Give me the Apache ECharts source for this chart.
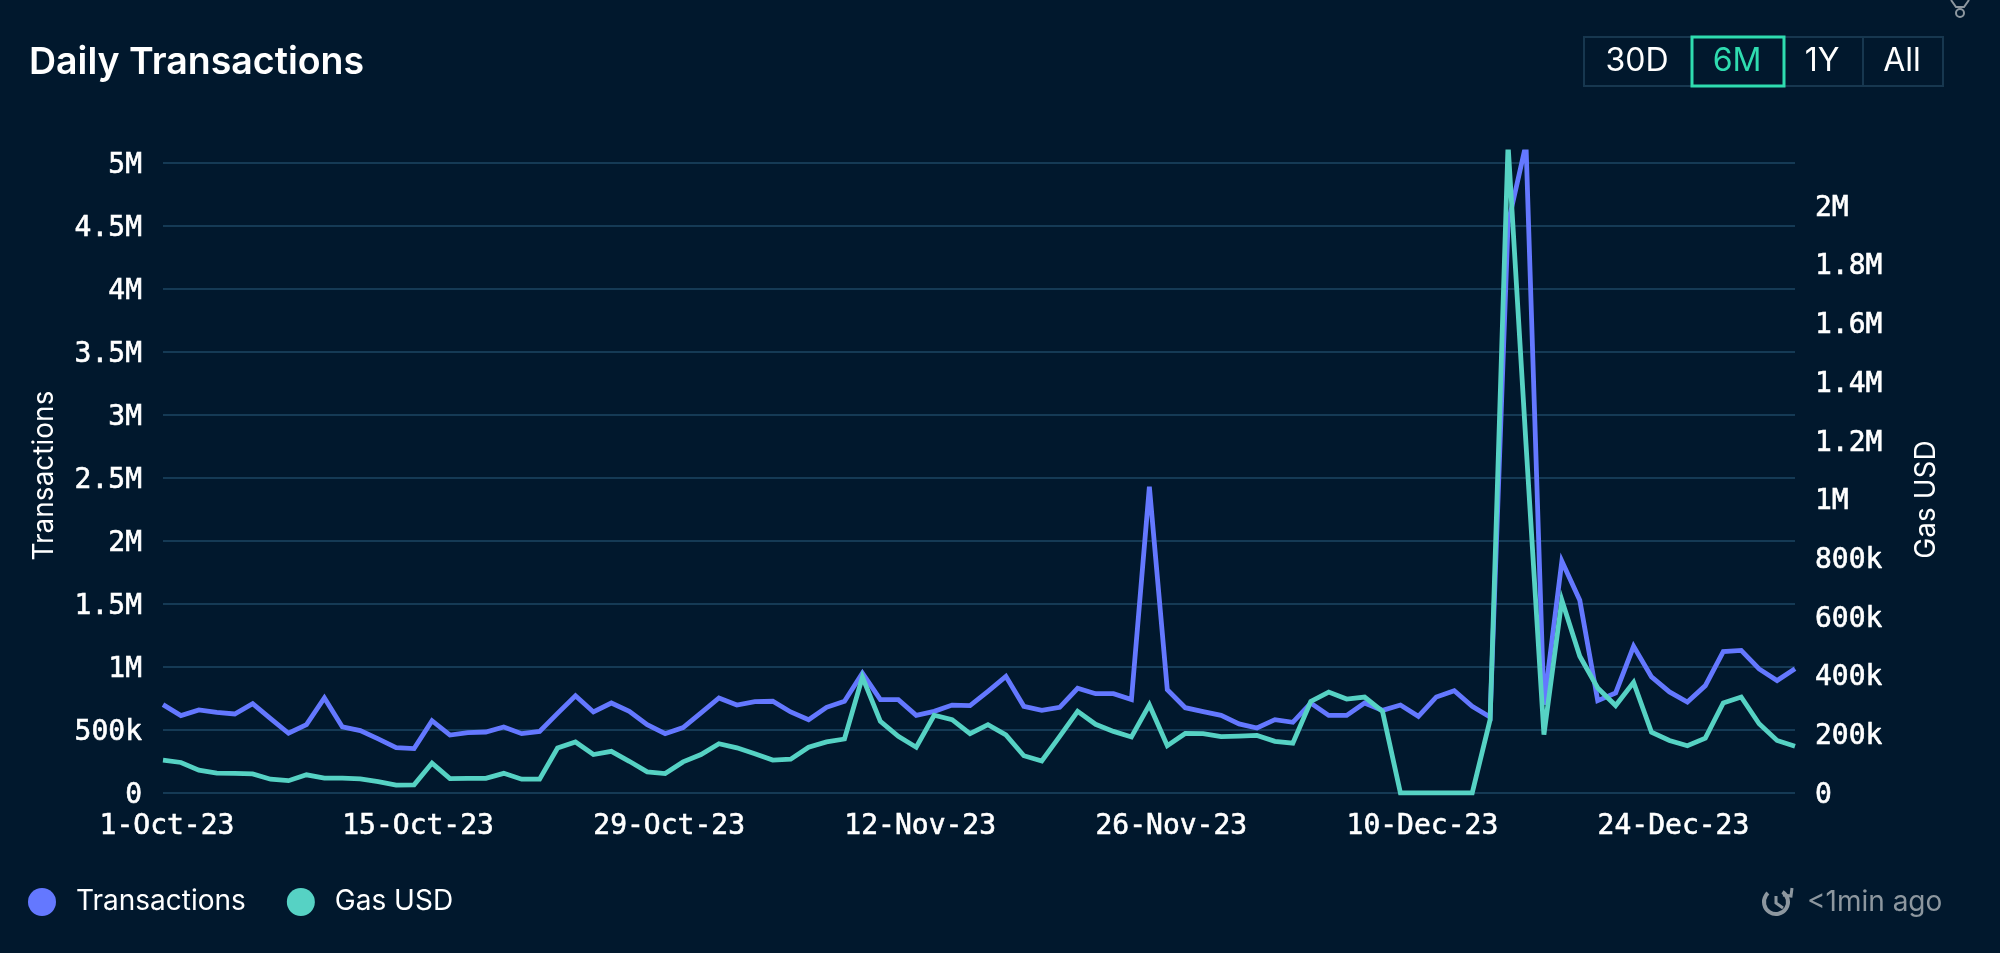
<!DOCTYPE html>
<html><head><meta charset="utf-8">
<style>html,body{margin:0;padding:0;background:#01182d}#c{width:2000px;height:953px}</style>
<script src="https://cdn.jsdelivr.net/npm/echarts@6/dist/echarts.min.js"></script>
</head><body><div id="c"></div>
<script>
const categories = [
"1-Oct-23","2-Oct-23","3-Oct-23","4-Oct-23","5-Oct-23","6-Oct-23","7-Oct-23","8-Oct-23","9-Oct-23","10-Oct-23",
"11-Oct-23","12-Oct-23","13-Oct-23","14-Oct-23","15-Oct-23","16-Oct-23","17-Oct-23","18-Oct-23","19-Oct-23","20-Oct-23",
"21-Oct-23","22-Oct-23","23-Oct-23","24-Oct-23","25-Oct-23","26-Oct-23","27-Oct-23","28-Oct-23","29-Oct-23","30-Oct-23","31-Oct-23",
"1-Nov-23","2-Nov-23","3-Nov-23","4-Nov-23","5-Nov-23","6-Nov-23","7-Nov-23","8-Nov-23","9-Nov-23","10-Nov-23",
"11-Nov-23","12-Nov-23","13-Nov-23","14-Nov-23","15-Nov-23","16-Nov-23","17-Nov-23","18-Nov-23","19-Nov-23","20-Nov-23",
"21-Nov-23","22-Nov-23","23-Nov-23","24-Nov-23","25-Nov-23","26-Nov-23","27-Nov-23","28-Nov-23","29-Nov-23","30-Nov-23",
"1-Dec-23","2-Dec-23","3-Dec-23","4-Dec-23","5-Dec-23","6-Dec-23","7-Dec-23","8-Dec-23","9-Dec-23","10-Dec-23",
"11-Dec-23","12-Dec-23","13-Dec-23","14-Dec-23","15-Dec-23","16-Dec-23","17-Dec-23","18-Dec-23","19-Dec-23","20-Dec-23",
"21-Dec-23","22-Dec-23","23-Dec-23","24-Dec-23","25-Dec-23","26-Dec-23","27-Dec-23","28-Dec-23","29-Dec-23","30-Dec-23","31-Dec-23"];
const transactions = [
701000,614000,659000,640000,627000,709000,590000,474000,542000,754000,
524000,495000,429000,360000,352000,574000,460000,479000,484000,524000,
471000,489000,632000,772000,643000,714000,648000,542000,471000,519000,
635000,754000,698000,725000,728000,643000,582000,680000,728000,952000,
741000,741000,616000,648000,698000,693000,807000,926000,688000,656000,
680000,831000,788000,788000,741000,2430000,820000,677000,646000,616000,
548000,516000,582000,561000,714000,616000,616000,714000,656000,698000,
608000,762000,812000,688000,603000,4520000,5150000,700000,1840000,1530000,
733000,794000,1164000,921000,802000,722000,852000,1122000,1132000,984000,
892000,987000];
const gasUsd = [
112000,104000,78000,68000,67000,65000,47000,42000,62000,51000,
51000,48000,39000,27000,28000,102000,49000,50000,50000,67000,
47000,47000,153000,174000,131000,142000,108000,72000,66000,106000,
131000,168000,154000,134000,112000,115000,156000,174000,184000,395000,
244000,193000,156000,265000,250000,202000,233000,198000,127000,109000,
193000,278000,234000,210000,191000,300000,161000,203000,202000,192000,
194000,196000,176000,170000,312000,344000,320000,327000,278000,0,
0,0,0,0,250000,2210000,1190000,199000,657000,466000,
358000,298000,377000,207000,179000,161000,187000,307000,327000,236000,
179000,159000];
const rangeButtons = ["30D","6M","1Y","All"];

const MONO = '"DejaVu Sans Mono",monospace', SANS = 'Inter,"Noto Sans",sans-serif';
const BG = '#01182d', GRID = '#153a55', BORDER = '#17374f', BLUE = '#6478ff', TEAL = '#56d2c4', MINT = '#2fdcb0', GREY = '#8d979f';
const fmt = v => v === 0 ? '0' : v >= 1e6 ? (v / 1e6) + 'M' : (v / 1e3) + 'k';

const btn = (cx, t, color) => ({type:'text', x:cx, y:61, style:{text:t, fill:color, font:'400 32px '+SANS, align:'center', verticalAlign:'middle'}});
const graphic = [
  {type:'rect', shape:{x:1584,y:37,width:359,height:49}, style:{fill:'none',stroke:BORDER,lineWidth:2}},
  {type:'line', shape:{x1:1863,y1:37,x2:1863,y2:86}, style:{stroke:BORDER,lineWidth:2}},
  {type:'rect', z:5, shape:{x:1692,y:37,width:92,height:49}, style:{fill:'none',stroke:MINT,lineWidth:3}},
  btn(1637, rangeButtons[0], '#fff'), btn(1737, rangeButtons[1], MINT), btn(1822, rangeButtons[2], '#fff'), btn(1902, rangeButtons[3], '#fff'),
  {type:'circle', shape:{cx:1960,cy:13,r:4}, style:{fill:'none',stroke:GREY,lineWidth:2}},
  {type:'polyline', shape:{points:[[1951,0],[1956,7],[1964,7],[1969,0]]}, style:{fill:'none',stroke:GREY,lineWidth:2}},
  {type:'text', x:1807, y:903, style:{text:'<1min ago', fill:GREY, font:'400 28px '+SANS, align:'left', verticalAlign:'middle'}},
  {type:'arc', shape:{cx:1776,cy:902,r:12,startAngle:-1.0,endAngle:-1.6+6.28-0.7,clockwise:true}, style:{fill:'none',stroke:GREY,lineWidth:4}},
  {type:'polyline', shape:{points:[[1776,896],[1776,903],[1783,908]]}, style:{fill:'none',stroke:GREY,lineWidth:3}},
  {type:'polyline', shape:{points:[[1792,888],[1791,896],[1783,895]]}, style:{fill:'none',stroke:GREY,lineWidth:3}}
];

const labelBase = {color:'#fff', fontFamily:MONO, fontSize:28, textBorderColor:'#fff', textBorderWidth:0.6};
const chart = echarts.init(document.getElementById('c'), null, {renderer:'canvas'});
chart.setOption({
  backgroundColor: BG, animation:false, graphic,
  title:{text:'Daily Transactions', left:24, top:36, textStyle:{color:'#fff', fontFamily:SANS, fontWeight:600, fontSize:37.5, lineHeight:44}},
  legend:{left:23, top:883, icon:'circle', itemWidth:28, itemHeight:28, itemGap:41,
    textStyle:{color:'#fff', fontFamily:SANS, fontSize:28, padding:[0,0,0,15]},
    data:['Transactions','Gas USD']},
  grid:{left:163, right:205, top:152, bottom:160},
  xAxis:{type:'category', data:categories, boundaryGap:false,
    axisLine:{show:false}, axisTick:{show:false}, splitLine:{show:false},
    axisLabel:{...labelBase, interval:13, margin:20, padding:[0,0,0,8], hideOverlap:false, showMinLabel:true}},
  yAxis:[
    {type:'value', min:0, max:5087000, interval:500000, name:'Transactions', nameLocation:'middle', nameGap:104, nameRotate:90,
      nameTextStyle:{color:'#fff', fontFamily:SANS, fontSize:28, padding:[0,6,0,0]},
      axisLine:{show:false}, axisTick:{show:false},
      splitLine:{show:true, showMaxLine:false, lineStyle:{color:GRID, width:2}},
      axisLabel:{...labelBase, margin:21, verticalAlign:'top', lineHeight:5, showMaxLabel:false, formatter:fmt}},
    {type:'value', min:0, max:2184000, interval:200000, position:'right', name:'Gas USD', nameLocation:'middle', nameGap:118, nameRotate:90,
      nameTextStyle:{color:'#fff', fontFamily:SANS, fontSize:28, padding:[0,54,0,0]},
      axisLine:{show:false}, axisTick:{show:false}, splitLine:{show:false},
      axisLabel:{...labelBase, margin:20, verticalAlign:'top', lineHeight:5, showMaxLabel:false, formatter:fmt}}
  ],
  series:[
    {name:'Transactions', type:'line', yAxisIndex:0, data:transactions, symbol:'none', smooth:false, itemStyle:{color:BLUE}, lineStyle:{color:BLUE, width:4.8, join:'miter'}},
    {name:'Gas USD', type:'line', yAxisIndex:1, data:gasUsd, symbol:'none', smooth:false, itemStyle:{color:TEAL}, lineStyle:{color:TEAL, width:4.8, join:'miter'}}
  ]
});
</script></body></html>
